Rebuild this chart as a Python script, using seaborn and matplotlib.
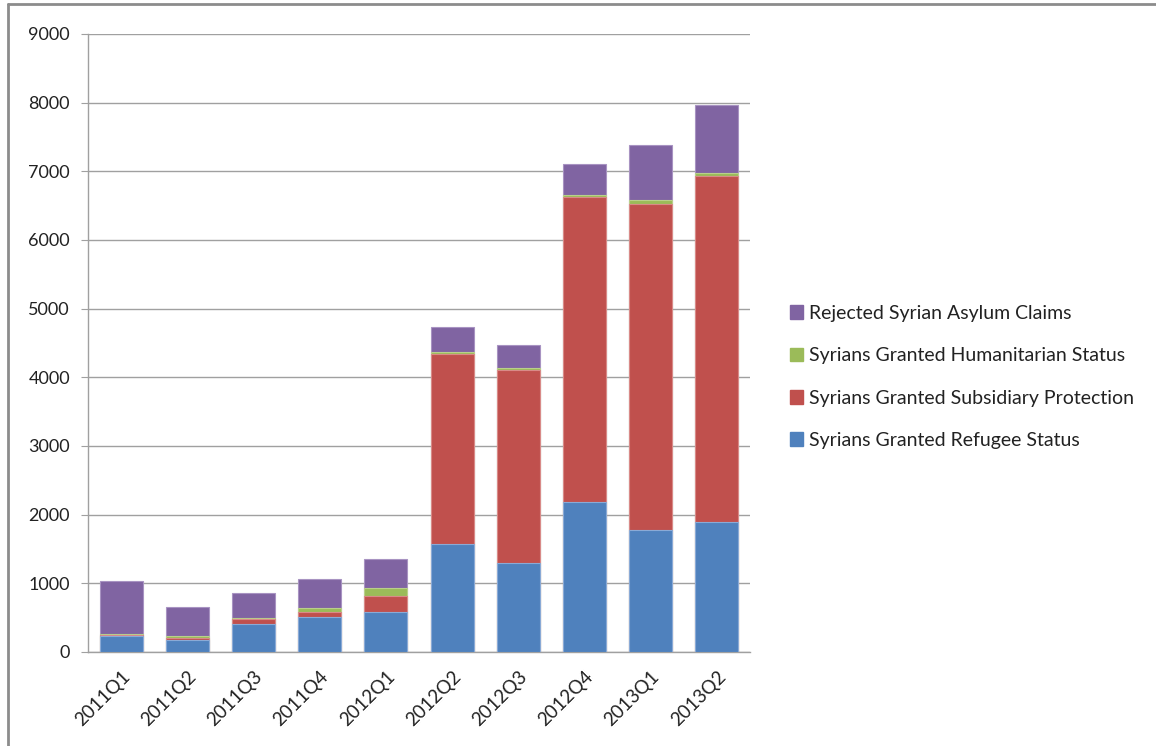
import matplotlib
matplotlib.use("Agg")
import matplotlib.pyplot as plt
import seaborn as sns
import numpy as np
import pandas as pd
from matplotlib.lines import Line2D
from matplotlib.patches import Patch

quarters = ["2011Q1", "2011Q2", "2011Q3", "2011Q4", "2012Q1",
            "2012Q2", "2012Q3", "2012Q4", "2013Q1", "2013Q2"]
refugee = [230, 170, 412, 505, 582, 1577, 1291, 2189, 1781, 1893]
subsidiary = [15, 34, 73, 77, 238, 2763, 2816, 4441, 4743, 5043]
humanitarian = [20, 25, 5, 54, 117, 33, 34, 25, 59, 35]
rejected = [763, 426, 374, 432, 413, 355, 330, 447, 800, 995]

series_names = ["Syrians Granted Refugee Status",
                "Syrians Granted Subsidiary Protection",
                "Syrians Granted Humanitarian Status",
                "Rejected Syrian Asylum Claims"]
colors = ["#4F81BD", "#C0504D", "#9BBB59", "#8064A2"]
edge_colors = ["#8AAAD6", "#D98A88", "#B9D08B", "#A893C2"]

sns.set_style("white")
plt.rcParams["font.family"] = ["Lato", "DejaVu Sans"]

fig = plt.figure(figsize=(11.56, 7.46), dpi=100)
ax = fig.add_axes([88 / 1156, 1 - 652 / 746, (750 - 88) / 1156, (652 - 34) / 746])

vals = np.array([refugee, subsidiary, humanitarian, rejected], dtype=float)
cum = np.cumsum(vals, axis=0)

# draw cumulative totals from largest to smallest so lower layers overlay
for i in range(3, -1, -1):
    df = pd.DataFrame({"quarter": quarters, "value": cum[i]})
    sns.barplot(data=df, x="quarter", y="value", color=colors[i], ax=ax,
                width=0.65, saturation=1, edgecolor=edge_colors[i],
                linewidth=0.8, zorder=3)

ax.set_ylim(0, 9000)
ax.set_xlim(-0.5, 9.5)
ax.set_yticks(np.arange(0, 9001, 1000))
ax.yaxis.grid(True, color="#A0A0A0", linewidth=1.0, zorder=0)
ax.set_axisbelow(True)
ax.set_xlabel("")
ax.set_ylabel("")
for s in ["top", "right"]:
    ax.spines[s].set_visible(False)
ax.spines["left"].set_color("#A0A0A0")
ax.spines["bottom"].set_color("#A0A0A0")
ax.spines["left"].set_linewidth(1.0)
ax.spines["bottom"].set_linewidth(1.0)
ax.tick_params(axis="y", left=True, length=5, color="#A0A0A0", pad=8,
               labelsize=13, labelcolor="#222222")
ax.tick_params(axis="x", bottom=False, pad=8, labelsize=13.5, labelcolor="#222222")
for lab in ax.get_xticklabels():
    lab.set_rotation(45)
    lab.set_ha("right")
    lab.set_rotation_mode("anchor")

handles = [Patch(facecolor=colors[i], edgecolor=colors[i]) for i in [3, 2, 1, 0]]
labels = [series_names[i] for i in [3, 2, 1, 0]]
fig.legend(handles, labels, loc="center left", bbox_to_anchor=(772 / 1156, 1 - 377 / 746),
           frameon=False, fontsize=14, handlelength=0.7, handleheight=0.7,
           handletextpad=0.3, labelspacing=1.3, labelcolor="#222222")

# outer border lines (top and left)
fig.add_artist(Line2D([8 / 1156, 1.0], [1 - 4 / 746, 1 - 4 / 746],
                      transform=fig.transFigure, color="#8C8C8C", linewidth=2))
fig.add_artist(Line2D([8 / 1156, 8 / 1156], [0.0, 1 - 4 / 746],
                      transform=fig.transFigure, color="#8C8C8C", linewidth=2))

fig.savefig("out.png", dpi=100)
